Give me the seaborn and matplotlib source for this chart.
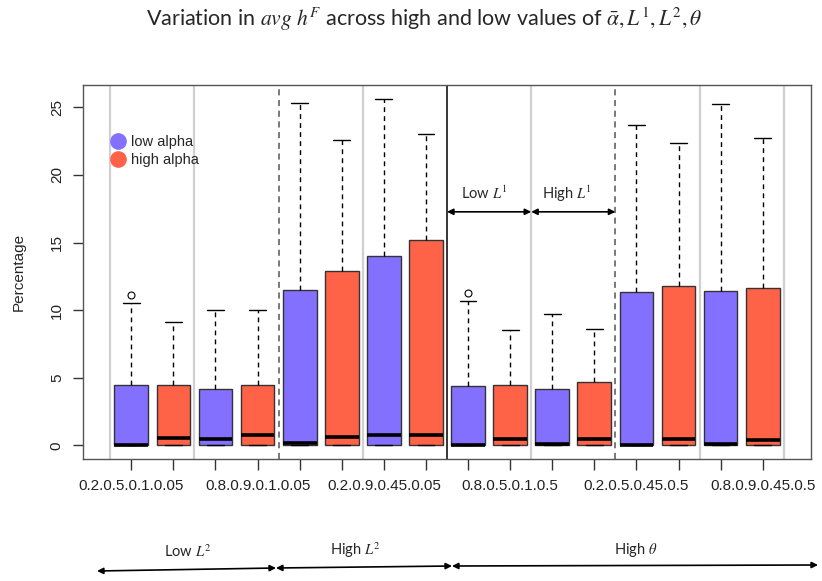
import matplotlib
matplotlib.use("Agg")
import matplotlib.pyplot as plt
import seaborn as sns
from matplotlib.lines import Line2D

# ---------------- data ----------------
box_labels = [
    "0.2.0.5.0.1.0.05", "0.8.0.5.0.1.0.05", "0.2.0.9.0.1.0.05", "0.8.0.9.0.1.0.05",
    "0.2.0.5.0.45.0.05", "0.8.0.5.0.45.0.05", "0.2.0.9.0.45.0.05", "0.8.0.9.0.45.0.05",
    "0.2.0.5.0.1.0.5", "0.8.0.5.0.1.0.5", "0.2.0.9.0.1.0.5", "0.8.0.9.0.1.0.5",
    "0.2.0.5.0.45.0.5", "0.8.0.5.0.45.0.5", "0.2.0.9.0.45.0.5", "0.8.0.9.0.45.0.5",
]
alpha_group = ["low alpha", "high alpha"] * 8
q1 = [0.0] * 16
medians = [0.0, 0.54, 0.49, 0.79, 0.20, 0.62, 0.74, 0.79,
           0.05, 0.49, 0.13, 0.49, 0.05, 0.49, 0.13, 0.37]
q3 = [4.44, 4.49, 4.20, 4.50, 11.47, 12.88, 14.01, 15.22,
      4.37, 4.50, 4.15, 4.66, 11.35, 11.77, 11.40, 11.62]
whisker_low = [0.0] * 16
whisker_high = [10.56, 9.10, 10.00, 10.00, 25.29, 22.55, 25.63, 23.02,
                10.70, 8.50, 9.70, 8.60, 23.71, 22.33, 25.22, 22.70]
outliers = [[11.15], [], [], [], [], [], [], [],
            [11.25], [], [], [], [], [], [], []]
shown_tick_labels = [0, 3, 6, 9, 12, 15]
y_ticks = [0, 5, 10, 15, 20, 25]

palette = {"low alpha": "#8470FF", "high alpha": "#FF6347"}

# ---------------- style ----------------
sns.set_theme(style="white")
plt.rcParams["font.family"] = ["Liberation Sans", "DejaVu Sans"]
plt.rcParams["mathtext.fontset"] = "stix"

fig = plt.figure(figsize=(8.22, 5.81), dpi=100)
ax = fig.add_axes([83.3 / 822, 1 - 459.3 / 581, (810.7 - 83.3) / 822, (459.3 - 84.7) / 581])

positions = list(range(1, 17))

# background separators
for xv in [0.5, 2.5, 4.5, 6.5, 8.5, 10.5, 12.5, 14.5, 16.5]:
    if xv in (4.5, 12.5):
        ax.axvline(xv, color="#555555", lw=1.1, ls=(0, (4, 3)), zorder=1)
    elif xv == 8.5:
        ax.axvline(xv, color="black", lw=1.1, zorder=1)
    else:
        ax.axvline(xv, color="#d0d0d0", lw=1.6, zorder=1)

stats = []
for i in range(16):
    stats.append(dict(med=medians[i], q1=q1[i], q3=q3[i],
                      whislo=whisker_low[i], whishi=whisker_high[i],
                      fliers=outliers[i], label=box_labels[i]))

bp = ax.bxp(stats, positions=positions, widths=0.8, patch_artist=True,
            showfliers=True,
            boxprops=dict(edgecolor="#333333", linewidth=1.0),
            medianprops=dict(color="black", linewidth=2.6, solid_capstyle="butt"),
            whiskerprops=dict(color="black", linewidth=1.0, linestyle=(0, (3.5, 3))),
            capprops=dict(color="black", linewidth=1.0),
            flierprops=dict(marker="o", markerfacecolor="none", markeredgecolor="black",
                            markersize=5, markeredgewidth=0.8),
            capwidths=0.4, manage_ticks=False, zorder=3)
for patch, grp in zip(bp["boxes"], alpha_group):
    patch.set_facecolor(palette[grp])

ax.set_xlim(-0.14, 17.14)
ax.set_ylim(-1.03, 26.67)

ax.set_xticks(positions)
ax.set_xticklabels([box_labels[i] if i in shown_tick_labels else "" for i in range(16)],
                   fontsize=11, color="#222222")
ax.set_yticks(y_ticks)
ax.set_yticklabels([str(v) for v in y_ticks], fontsize=11, color="#222222",
                   rotation=90, va="center")
ax.tick_params(axis="x", length=8, width=1, color="#333333", pad=6, direction="out", bottom=True)
ax.tick_params(axis="y", length=7, width=1, color="#333333", pad=7, direction="out", left=True)
for s in ax.spines.values():
    s.set_color("#555555")
    s.set_linewidth(1.0)
ax.set_ylabel("Percentage", fontsize=11)
ax.yaxis.set_label_coords(-0.079, 0.5)

# legend
handles = [Line2D([], [], marker="o", ls="", ms=11, mfc=palette[g], mec=palette[g], label=g)
           for g in ["low alpha", "high alpha"]]
ax.legend(handles=handles, loc="upper left", bbox_to_anchor=(111 / 822, 1 - 135 / 581),
          bbox_transform=fig.transFigure, frameon=False, fontsize=10.5,
          handlelength=1.0, handletextpad=0.35, labelspacing=0.3, borderpad=0, borderaxespad=0)

# in-plot annotations for L1
ann_font = ["Lato", "DejaVu Sans"]
ax.annotate("", xy=(8.5, 17.27), xytext=(10.5, 17.27),
            arrowprops=dict(arrowstyle="<|-|>", color="black", lw=1.2, mutation_scale=9,
                            shrinkA=0, shrinkB=0), zorder=4)
ax.annotate("", xy=(10.5, 17.27), xytext=(12.5, 17.27),
            arrowprops=dict(arrowstyle="<|-|>", color="black", lw=1.2, mutation_scale=9,
                            shrinkA=0, shrinkB=0), zorder=4)
ax.text(9.39, 18.6, r"Low $L^1$", ha="center", va="center", fontsize=10.5, family=ann_font)
ax.text(11.34, 18.6, r"High $L^1$", ha="center", va="center", fontsize=10.5, family=ann_font)

# title
fig.text(424 / 822, 1 - 19 / 581,
         r"Variation in $avg\ h^F$ across high and low values of $\bar{\alpha}, L^1, L^2, \theta$",
         ha="center", va="center", fontsize=15.5, family=ann_font)

# bottom bracket annotations (figure pixels)
H = 581
for (x1, y1, x2, y2) in [(97, 571, 276, 568), (276, 568, 452, 566), (452, 566, 818, 565)]:
    fig.patches.append(matplotlib.patches.FancyArrowPatch(
        (x1 / 822, 1 - y1 / H), (x2 / 822, 1 - y2 / H), transform=fig.transFigure,
        arrowstyle="<|-|>", mutation_scale=9, color="black", lw=1.2,
        shrinkA=0, shrinkB=0))
fig.text(188 / 822, 1 - 552 / H, r"Low $L^2$", ha="center", va="center", fontsize=10.5, family=ann_font)
fig.text(355 / 822, 1 - 550 / H, r"High $L^2$", ha="center", va="center", fontsize=10.5, family=ann_font)
fig.text(636 / 822, 1 - 550 / H, r"High $\theta$", ha="center", va="center", fontsize=10.5, family=ann_font)

fig.savefig("out.png", dpi=100)
